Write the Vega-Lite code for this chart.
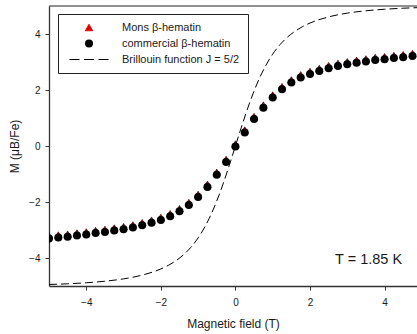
{
  "$schema": "https://vega.github.io/schema/vega-lite/v6.json",
  "width": 368,
  "height": 280,
  "autosize": {"type": "none"},
  "padding": {"left": 49, "top": 6, "right": 0, "bottom": 48},
  "background": "white",
  "config": {
    "font": "Liberation Sans",
    "view": {"stroke": null},
    "legend": {
      "labelFontSize": 11,
      "labelFont": "Liberation Sans",
      "labelColor": "#1a1a1a",
      "strokeColor": "#222222",
      "fillColor": "white",
      "padding": 8,
      "symbolSize": 64,
      "symbolOffset": 17.5,
      "labelOffset": 27.5,
      "rowPadding": 4,
      "clipHeight": 11,
      "labelLimit": 300
    },
    "axis": {
      "grid": false,
      "domainColor": "#333333",
      "domainWidth": 1.3,
      "tickColor": "#333333",
      "tickWidth": 1,
      "tickSize": 4,
      "labelFont": "Liberation Sans",
      "labelFontSize": 10,
      "labelColor": "#1a1a1a",
      "titleFont": "Liberation Sans",
      "titleFontSize": 12,
      "titleFontWeight": "normal",
      "titleColor": "#1a1a1a"
    }
  },
  "datasets": {
    "annot": [{"label": "T = 1.85 K", "top": 5}],
    "mag": [
      {"B": -5.0, "M": -3.30, "series": "commercial β-hematin"},
      {"B": -4.75, "M": -3.27, "series": "commercial β-hematin"},
      {"B": -4.5, "M": -3.24, "series": "commercial β-hematin"},
      {"B": -4.25, "M": -3.20, "series": "commercial β-hematin"},
      {"B": -4.0, "M": -3.16, "series": "commercial β-hematin"},
      {"B": -3.75, "M": -3.11, "series": "commercial β-hematin"},
      {"B": -3.5, "M": -3.07, "series": "commercial β-hematin"},
      {"B": -3.25, "M": -3.02, "series": "commercial β-hematin"},
      {"B": -3.0, "M": -2.97, "series": "commercial β-hematin"},
      {"B": -2.75, "M": -2.91, "series": "commercial β-hematin"},
      {"B": -2.5, "M": -2.83, "series": "commercial β-hematin"},
      {"B": -2.25, "M": -2.74, "series": "commercial β-hematin"},
      {"B": -2.0, "M": -2.64, "series": "commercial β-hematin"},
      {"B": -1.75, "M": -2.51, "series": "commercial β-hematin"},
      {"B": -1.5, "M": -2.33, "series": "commercial β-hematin"},
      {"B": -1.25, "M": -2.11, "series": "commercial β-hematin"},
      {"B": -1.0, "M": -1.82, "series": "commercial β-hematin"},
      {"B": -0.75, "M": -1.46, "series": "commercial β-hematin"},
      {"B": -0.5, "M": -1.03, "series": "commercial β-hematin"},
      {"B": -0.25, "M": -0.57, "series": "commercial β-hematin"},
      {"B": 0.0, "M": -0.02, "series": "commercial β-hematin"},
      {"B": 0.25, "M": 0.48, "series": "commercial β-hematin"},
      {"B": 0.5, "M": 0.96, "series": "commercial β-hematin"},
      {"B": 0.75, "M": 1.37, "series": "commercial β-hematin"},
      {"B": 1.0, "M": 1.73, "series": "commercial β-hematin"},
      {"B": 1.25, "M": 2.03, "series": "commercial β-hematin"},
      {"B": 1.5, "M": 2.27, "series": "commercial β-hematin"},
      {"B": 1.75, "M": 2.45, "series": "commercial β-hematin"},
      {"B": 2.0, "M": 2.57, "series": "commercial β-hematin"},
      {"B": 2.25, "M": 2.68, "series": "commercial β-hematin"},
      {"B": 2.5, "M": 2.78, "series": "commercial β-hematin"},
      {"B": 2.75, "M": 2.86, "series": "commercial β-hematin"},
      {"B": 3.0, "M": 2.92, "series": "commercial β-hematin"},
      {"B": 3.25, "M": 2.97, "series": "commercial β-hematin"},
      {"B": 3.5, "M": 3.02, "series": "commercial β-hematin"},
      {"B": 3.75, "M": 3.07, "series": "commercial β-hematin"},
      {"B": 4.0, "M": 3.10, "series": "commercial β-hematin"},
      {"B": 4.25, "M": 3.14, "series": "commercial β-hematin"},
      {"B": 4.5, "M": 3.17, "series": "commercial β-hematin"},
      {"B": 4.75, "M": 3.21, "series": "commercial β-hematin"},
      {"B": 5.0, "M": 3.24, "series": "commercial β-hematin"},
      {"B": -5.0, "M": -3.21, "series": "Mons β-hematin"},
      {"B": -4.75, "M": -3.18, "series": "Mons β-hematin"},
      {"B": -4.5, "M": -3.15, "series": "Mons β-hematin"},
      {"B": -4.25, "M": -3.11, "series": "Mons β-hematin"},
      {"B": -4.0, "M": -3.07, "series": "Mons β-hematin"},
      {"B": -3.75, "M": -3.02, "series": "Mons β-hematin"},
      {"B": -3.5, "M": -2.98, "series": "Mons β-hematin"},
      {"B": -3.25, "M": -2.93, "series": "Mons β-hematin"},
      {"B": -3.0, "M": -2.88, "series": "Mons β-hematin"},
      {"B": -2.75, "M": -2.82, "series": "Mons β-hematin"},
      {"B": -2.5, "M": -2.74, "series": "Mons β-hematin"},
      {"B": -2.25, "M": -2.65, "series": "Mons β-hematin"},
      {"B": -2.0, "M": -2.55, "series": "Mons β-hematin"},
      {"B": -1.75, "M": -2.42, "series": "Mons β-hematin"},
      {"B": -1.5, "M": -2.24, "series": "Mons β-hematin"},
      {"B": -1.25, "M": -2.02, "series": "Mons β-hematin"},
      {"B": -1.0, "M": -1.73, "series": "Mons β-hematin"},
      {"B": -0.75, "M": -1.37, "series": "Mons β-hematin"},
      {"B": -0.5, "M": -0.94, "series": "Mons β-hematin"},
      {"B": -0.25, "M": -0.48, "series": "Mons β-hematin"},
      {"B": 0.0, "M": 0.07, "series": "Mons β-hematin"},
      {"B": 0.25, "M": 0.57, "series": "Mons β-hematin"},
      {"B": 0.5, "M": 1.05, "series": "Mons β-hematin"},
      {"B": 0.75, "M": 1.46, "series": "Mons β-hematin"},
      {"B": 1.0, "M": 1.82, "series": "Mons β-hematin"},
      {"B": 1.25, "M": 2.12, "series": "Mons β-hematin"},
      {"B": 1.5, "M": 2.36, "series": "Mons β-hematin"},
      {"B": 1.75, "M": 2.54, "series": "Mons β-hematin"},
      {"B": 2.0, "M": 2.66, "series": "Mons β-hematin"},
      {"B": 2.25, "M": 2.77, "series": "Mons β-hematin"},
      {"B": 2.5, "M": 2.87, "series": "Mons β-hematin"},
      {"B": 2.75, "M": 2.95, "series": "Mons β-hematin"},
      {"B": 3.0, "M": 3.01, "series": "Mons β-hematin"},
      {"B": 3.25, "M": 3.06, "series": "Mons β-hematin"},
      {"B": 3.5, "M": 3.11, "series": "Mons β-hematin"},
      {"B": 3.75, "M": 3.16, "series": "Mons β-hematin"},
      {"B": 4.0, "M": 3.19, "series": "Mons β-hematin"},
      {"B": 4.25, "M": 3.23, "series": "Mons β-hematin"},
      {"B": 4.5, "M": 3.26, "series": "Mons β-hematin"},
      {"B": 4.75, "M": 3.30, "series": "Mons β-hematin"},
      {"B": 5.0, "M": 3.33, "series": "Mons β-hematin"},
      {"B": -5.0, "M": -4.946, "series": "Brillouin function J = 5/2"},
      {"B": -4.5, "M": -4.921, "series": "Brillouin function J = 5/2"},
      {"B": -4.0, "M": -4.884, "series": "Brillouin function J = 5/2"},
      {"B": -3.5, "M": -4.829, "series": "Brillouin function J = 5/2"},
      {"B": -3.0, "M": -4.745, "series": "Brillouin function J = 5/2"},
      {"B": -2.5, "M": -4.611, "series": "Brillouin function J = 5/2"},
      {"B": -2.0, "M": -4.391, "series": "Brillouin function J = 5/2"},
      {"B": -1.8, "M": -4.263, "series": "Brillouin function J = 5/2"},
      {"B": -1.6, "M": -4.100, "series": "Brillouin function J = 5/2"},
      {"B": -1.4, "M": -3.893, "series": "Brillouin function J = 5/2"},
      {"B": -1.2, "M": -3.626, "series": "Brillouin function J = 5/2"},
      {"B": -1.0, "M": -3.282, "series": "Brillouin function J = 5/2"},
      {"B": -0.9, "M": -3.073, "series": "Brillouin function J = 5/2"},
      {"B": -0.8, "M": -2.840, "series": "Brillouin function J = 5/2"},
      {"B": -0.7, "M": -2.577, "series": "Brillouin function J = 5/2"},
      {"B": -0.6, "M": -2.285, "series": "Brillouin function J = 5/2"},
      {"B": -0.5, "M": -1.963, "series": "Brillouin function J = 5/2"},
      {"B": -0.4, "M": -1.612, "series": "Brillouin function J = 5/2"},
      {"B": -0.3, "M": -1.235, "series": "Brillouin function J = 5/2"},
      {"B": -0.2, "M": -0.836, "series": "Brillouin function J = 5/2"},
      {"B": -0.1, "M": -0.423, "series": "Brillouin function J = 5/2"},
      {"B": 0.0, "M": 0.0, "series": "Brillouin function J = 5/2"},
      {"B": 0.1, "M": 0.423, "series": "Brillouin function J = 5/2"},
      {"B": 0.2, "M": 0.836, "series": "Brillouin function J = 5/2"},
      {"B": 0.3, "M": 1.235, "series": "Brillouin function J = 5/2"},
      {"B": 0.4, "M": 1.612, "series": "Brillouin function J = 5/2"},
      {"B": 0.5, "M": 1.963, "series": "Brillouin function J = 5/2"},
      {"B": 0.6, "M": 2.285, "series": "Brillouin function J = 5/2"},
      {"B": 0.7, "M": 2.577, "series": "Brillouin function J = 5/2"},
      {"B": 0.8, "M": 2.840, "series": "Brillouin function J = 5/2"},
      {"B": 0.9, "M": 3.073, "series": "Brillouin function J = 5/2"},
      {"B": 1.0, "M": 3.282, "series": "Brillouin function J = 5/2"},
      {"B": 1.2, "M": 3.626, "series": "Brillouin function J = 5/2"},
      {"B": 1.4, "M": 3.893, "series": "Brillouin function J = 5/2"},
      {"B": 1.6, "M": 4.100, "series": "Brillouin function J = 5/2"},
      {"B": 1.8, "M": 4.263, "series": "Brillouin function J = 5/2"},
      {"B": 2.0, "M": 4.391, "series": "Brillouin function J = 5/2"},
      {"B": 2.5, "M": 4.611, "series": "Brillouin function J = 5/2"},
      {"B": 3.0, "M": 4.745, "series": "Brillouin function J = 5/2"},
      {"B": 3.5, "M": 4.829, "series": "Brillouin function J = 5/2"},
      {"B": 4.0, "M": 4.884, "series": "Brillouin function J = 5/2"},
      {"B": 4.5, "M": 4.921, "series": "Brillouin function J = 5/2"},
      {"B": 5.0, "M": 4.946, "series": "Brillouin function J = 5/2"}
    ]
  },
  "layer": [
    {
      "data": {"name": "annot"},
      "mark": {"type": "rule", "color": "#222222", "strokeWidth": 1},
      "encoding": {"y": {"field": "top", "type": "quantitative", "scale": {"domain": [-5, 5], "nice": false, "zero": false}}}
    },
    {
      "data": {"name": "mag"},
      "transform": [{"filter": "datum.series == 'Brillouin function J = 5/2'"}],
      "mark": {"type": "line", "strokeDash": [8, 4], "strokeWidth": 1, "interpolate": "monotone", "clip": true},
      "encoding": {
        "x": {
          "field": "B", "type": "quantitative",
          "scale": {"domain": [-5, 4.87], "nice": false, "zero": false},
          "axis": {"title": "Magnetic field (T)", "values": [-4, -2, 0, 2, 4], "labelPadding": 7, "titlePadding": 11}
        },
        "y": {
          "field": "M", "type": "quantitative",
          "scale": {"domain": [-5, 5], "nice": false, "zero": false},
          "axis": {"title": "M (μB/Fe)", "values": [-4, -2, 0, 2, 4], "labelPadding": 5, "titlePadding": 7}
        },
        "color": {
          "field": "series", "type": "nominal",
          "scale": {"domain": ["Mons β-hematin", "commercial β-hematin", "Brillouin function J = 5/2"], "range": ["#e00000", "black", "black"]},
          "legend": {
            "title": null,
            "orient": "none",
            "legendX": 9,
            "legendY": 8,
            "padding": 8,
            "strokeColor": "#222222",
            "fillColor": "white",
            "labelFont": "Liberation Sans",
            "labelFontSize": 11,
            "labelColor": "#1a1a1a",
            "labelLimit": 300,
            "symbolSize": 64,
            "symbolOffset": 17.5,
            "labelOffset": 27.5,
            "rowPadding": 4,
            "clipHeight": 11,
            "encode": {
              "symbols": {
                "update": {
                  "size": {"signal": "datum.value == 'Brillouin function J = 5/2' ? 1521 : (datum.value == 'Mons β-hematin' ? 56 : 64)"},
                  "strokeDash": {"signal": "datum.value == 'Brillouin function J = 5/2' ? [10, 4.5] : [1, 0]"},
                  "stroke": {"value": "black"},
                  "strokeWidth": {"signal": "datum.value == 'commercial β-hematin' ? 0 : 1"},
                  "fill": {"signal": "datum.value == 'Mons β-hematin' ? '#e00000' : (datum.value == 'commercial β-hematin' ? 'black' : 'transparent')"},
                  "opacity": {"value": 1}
                }
              }
            }
          }
        },
        "shape": {
          "field": "series", "type": "nominal",
          "scale": {"domain": ["Mons β-hematin", "commercial β-hematin", "Brillouin function J = 5/2"], "range": ["triangle-up", "circle", "stroke"]}
        }
      }
    },
    {
      "data": {"name": "mag"},
      "transform": [{"filter": "datum.series == 'Mons β-hematin'"}],
      "mark": {"type": "point", "filled": true, "stroke": "black", "strokeWidth": 0.6, "size": 56, "opacity": 1, "clip": true},
      "encoding": {
        "x": {"field": "B", "type": "quantitative"},
        "y": {"field": "M", "type": "quantitative"},
        "color": {"field": "series", "type": "nominal"},
        "shape": {"field": "series", "type": "nominal"}
      }
    },
    {
      "data": {"name": "mag"},
      "transform": [{"filter": "datum.series == 'commercial β-hematin'"}],
      "mark": {"type": "point", "filled": true, "size": 64, "opacity": 1, "clip": true},
      "encoding": {
        "x": {"field": "B", "type": "quantitative"},
        "y": {"field": "M", "type": "quantitative"},
        "color": {"field": "series", "type": "nominal"},
        "shape": {"field": "series", "type": "nominal"}
      }
    },
    {
      "data": {"name": "annot"},
      "mark": {"type": "text", "fontSize": 14.5, "font": "Liberation Sans", "color": "#1a1a1a", "align": "center", "baseline": "middle"},
      "encoding": {"x": {"datum": 3.57}, "y": {"datum": -4.07}, "text": {"field": "label"}}
    }
  ]
}
